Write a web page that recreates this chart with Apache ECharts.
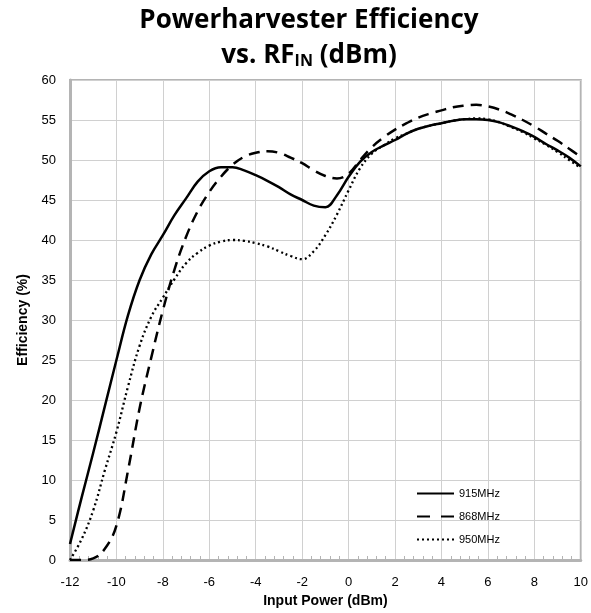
<!DOCTYPE html>
<html><head><meta charset="utf-8">
<script src="https://cdn.jsdelivr.net/npm/echarts@6/dist/echarts.min.js"></script>
<style>html,body{margin:0;padding:0;background:#fff}#c{width:591px;height:613px}</style>
</head><body><div id="c"></div>
<script>
const xValues = [-12,-11.5,-11,-10.5,-10,-9.5,-9,-8.5,-8,-7.5,-7,-6.5,-6,-5.5,-5,-4.5,-4,-3.5,-3,-2.5,-2,-1.5,-1,-0.5,0,0.5,1,1.5,2,2.5,3,3.5,4,4.5,5,5.5,6,6.5,7,7.5,8,8.5,9,9.5,10];
const eff915 = [2,7.8,13.4,19.2,25,30.6,35,38.2,40.6,43.1,45.2,47.3,48.6,49.1,49.1,48.7,48.1,47.4,46.6,45.7,45,44.3,44.1,45.6,47.9,49.8,51,51.8,52.5,53.3,53.9,54.3,54.6,54.9,55.1,55.1,55,54.7,54.2,53.6,52.9,52,51.2,50.3,49.2];
const eff868 = [0,0,0.2,1.4,4.3,11.2,19,25.3,31.2,36.3,40.4,43.6,46,47.9,49.4,50.4,50.9,51.1,50.9,50.3,49.6,48.7,48,47.7,48.3,50,51.6,52.8,53.8,54.6,55.3,55.8,56.2,56.6,56.8,56.9,56.7,56.3,55.7,55,54.2,53.3,52.4,51.4,50.4];
const eff950 = [0,2.6,6.2,11.2,16,21.7,26.8,30.4,32.8,35.1,37.1,38.4,39.3,39.8,40,39.9,39.6,39.2,38.6,38,37.6,38.6,40.6,43.2,46.2,49,50.8,51.8,52.7,53.3,53.9,54.3,54.6,54.9,55.1,55.2,55.1,54.7,54.1,53.5,52.7,51.9,51,50,49];
const seriesNames = ['915MHz','868MHz','950MHz'];

const chart = echarts.init(document.getElementById('c'), null, {renderer:'canvas'});
const pair = arr => xValues.map((x,i)=>[x,arr[i]]);
chart.setOption({
  backgroundColor:'#fff',
  animation:false,
  title:{
    text:'Powerharvester Efficiency\n{n|vs. RF}{s|IN}{n| (dBm)}',
    left:304, textAlign:'center', top:-2,
    textStyle:{fontFamily:'Open Sans', fontWeight:'bold', fontSize:26, color:'#000', lineHeight:35,
      rich:{n:{fontFamily:'Open Sans', fontWeight:'bold', fontSize:26, color:'#000', lineHeight:35},
            s:{fontFamily:'Open Sans', fontWeight:'bold', fontSize:16, color:'#000', lineHeight:35, padding:[12,0,0,0]}}}
  },
  grid:{left:70, top:80, right:8, bottom:53, show:true, borderColor:'#b4b4b4', borderWidth:2},
  legend:{
    orient:'vertical', left:411, top:483, itemWidth:37, itemHeight:10, itemGap:12,
    itemStyle:{opacity:0},
    textStyle:{fontFamily:'Liberation Sans', fontSize:11, color:'#000'},
    data:[
      {name:seriesNames[0]},
      {name:seriesNames[1], lineStyle:{type:[13,11]}},
      {name:seriesNames[2], lineStyle:{type:[2,3]}}
    ]
  },
  xAxis:{
    type:'value', min:-12, max:10, interval:2,
    name:'Input Power (dBm)', nameLocation:'middle', nameGap:33,
    nameTextStyle:{fontFamily:'Liberation Sans', fontWeight:'bold', fontSize:14, color:'#000'},
    axisLine:{show:true, onZero:false, lineStyle:{color:'#b4b4b4', width:3}},
    axisTick:{show:false},
    minorTick:{show:true, splitNumber:5, length:-4, lineStyle:{color:'#b4b4b4'}},
    axisLabel:{fontFamily:'Liberation Sans', fontSize:13, color:'#000', margin:16},
    splitLine:{show:true, lineStyle:{color:'#d0d0d0', width:1}}
  },
  yAxis:{
    type:'value', min:0, max:60, interval:5,
    name:'Efficiency (%)', nameLocation:'middle', nameGap:38, nameRotate:90,
    nameTextStyle:{fontFamily:'Liberation Sans', fontWeight:'bold', fontSize:14, color:'#000'},
    axisLine:{show:true, onZero:false, lineStyle:{color:'#b4b4b4', width:3}},
    axisTick:{show:false},
    axisLabel:{fontFamily:'Liberation Sans', fontSize:13, color:'#000', margin:14},
    splitLine:{show:true, lineStyle:{color:'#d0d0d0', width:1}}
  },
  series:[
    {name:seriesNames[0], type:'line', data:pair(eff915), smooth:0.4, symbol:'none',
     lineStyle:{color:'#000', width:2.5, type:'solid'}, itemStyle:{color:'#000'}},
    {name:seriesNames[1], type:'line', data:pair(eff868), smooth:0.4, symbol:'none',
     lineStyle:{color:'#000', width:2.5, type:[11,7]}, itemStyle:{color:'#000'}},
    {name:seriesNames[2], type:'line', data:pair(eff950), smooth:0.4, symbol:'none',
     lineStyle:{color:'#000', width:2.3, type:[2,3]}, itemStyle:{color:'#000'}}
  ]
});
</script></body></html>
